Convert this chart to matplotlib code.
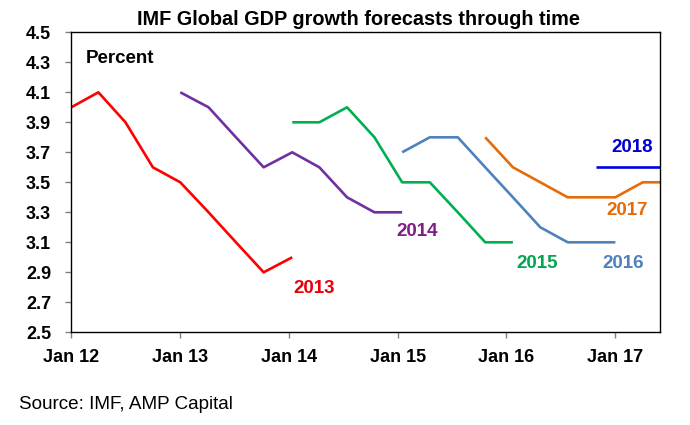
import matplotlib
matplotlib.use("Agg")
import matplotlib.pyplot as plt
import matplotlib.dates as mdates
import numpy as np

plt.rcParams['font.family'] = ['Liberation Sans', 'DejaVu Sans']

# IMF forecast release dates (as placed on the chart)
release = ["2012-01-01", "2012-04-01", "2012-07-01", "2012-10-01",
           "2013-01-01", "2013-04-06", "2013-07-07", "2013-10-08",
           "2014-01-12", "2014-04-13", "2014-07-15", "2014-10-15",
           "2015-01-16", "2015-04-19", "2015-07-22", "2015-10-22",
           "2016-01-23", "2016-04-24", "2016-07-25", "2016-10-27",
           "2017-01-01", "2017-04-03", "2017-07-01"]
release = np.array(release, dtype="datetime64[D]")

# forecast for each target year, starting at release index
years = ["2013", "2014", "2015", "2016", "2017", "2018"]
starts = [0, 4, 8, 12, 15, 19]
y2013 = [4.0, 4.1, 3.9, 3.6, 3.5, 3.3, 3.1, 2.9, 3.0]
y2014 = [4.1, 4.0, 3.8, 3.6, 3.7, 3.6, 3.4, 3.3, 3.3]
y2015 = [3.9, 3.9, 4.0, 3.8, 3.5, 3.5, 3.3, 3.1, 3.1]
y2016 = [3.7, 3.8, 3.8, 3.6, 3.4, 3.2, 3.1, 3.1, 3.1]
y2017 = [3.8, 3.6, 3.5, 3.4, 3.4, 3.4, 3.5, 3.5]
y2018 = [3.6, 3.6, 3.6, 3.6]
series = [y2013, y2014, y2015, y2016, y2017, y2018]

line_colors = ['#FF0000', '#7030A0', '#00B050', '#4F81BD', '#E46C0A', '#0000E6']
label_colors = ['#E8000B', '#7F1F86', '#00A650', '#4F81BD', '#E46C0A', '#0000D0']
# where the year labels sit
label_x = np.array(["2014-03-28", "2015-03-07", "2016-04-13",
                    "2017-01-28", "2017-02-09", "2017-02-25"], dtype="datetime64[D]")
label_y = [2.79, 3.17, 2.96, 2.96, 3.31, 3.73]

fig = plt.figure(figsize=(6.9, 4.25), dpi=100)
ax = fig.add_axes([0.1033, 0.2181, 0.8537, 0.7059])

for i in range(len(years)):
    s = starts[i]
    vals = series[i]
    ax.plot(release[s:s + len(vals)], vals, color=line_colors[i], lw=1.9,
            solid_joinstyle='round', solid_capstyle='butt')
    ax.text(label_x[i], label_y[i], years[i], color=label_colors[i],
            fontsize=13.5, fontweight='bold', ha='center', va='center')

ax.set_xlim(np.datetime64("2012-01-01"), np.datetime64("2017-06-01"))
ax.set_ylim(2.5, 4.5)
ax.set_yticks(np.arange(2.5, 4.51, 0.2))
ax.yaxis.set_major_formatter(plt.FuncFormatter(lambda v, p: "%.1f" % v))
ax.xaxis.set_major_locator(mdates.YearLocator())
ax.xaxis.set_major_formatter(mdates.DateFormatter("Jan %y"))

for lab in ax.get_xticklabels() + ax.get_yticklabels():
    lab.set_fontweight('bold')
ax.tick_params(axis='both', labelsize=13, direction='out', length=4,
               width=1, color='#808080')
ax.tick_params(axis='y', pad=10.5)
ax.tick_params(axis='x', pad=8)
for sp in ax.spines.values():
    sp.set_color('black')
    sp.set_linewidth(1)

ax.text(0.025, 0.94, "Percent", transform=ax.transAxes, fontsize=13.5,
        fontweight='bold', ha='left', va='top')

fig.text(0.519, 0.955, "IMF Global GDP growth forecasts through time",
         fontsize=14.3, fontweight='bold', ha='center', va='center')
fig.text(0.0275, 0.049, "Source: IMF, AMP Capital", fontsize=13.6,
         ha='left', va='center')

fig.savefig("out.png", dpi=100)
